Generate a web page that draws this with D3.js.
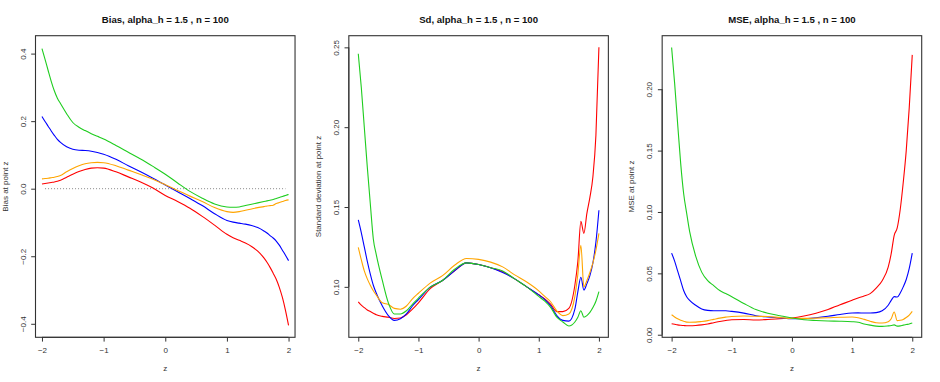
<!DOCTYPE html>
<html>
<head>
<meta charset="utf-8">
<script src="https://cdn.jsdelivr.net/npm/d3@7"></script>
<style>
  body { margin: 0; background: #fff; }
  svg text { font-family: "Liberation Sans", Arial, Helvetica, sans-serif; }
</style>
</head>
<body>
<svg id="chart"></svg>
<script>
const width = 940;
const height = 382;

// evaluation points z
const zGrid = [-2, -1.95, -1.9, -1.85, -1.8, -1.75, -1.7, -1.6, -1.5, -1.4, -1.3, -1.2, -1.1, -1,
  -0.8, -0.6, -0.4, -0.2, 0, 0.2, 0.4, 0.6, 0.8, 1, 1.1, 1.2, 1.3, 1.4, 1.5, 1.6, 1.65, 1.7,
  1.75, 1.8, 1.85, 1.9, 1.95, 2];

const seriesColors = ['#ff0000', '#0000ff', '#ffa500', '#1fcd1f'];
const xTicks = [-2, -1, 0, 1, 2];

// Bias
const biasRed = [0.014, 0.0155, 0.017, 0.0185, 0.020, 0.022, 0.025, 0.034, 0.043, 0.051, 0.057, 0.061, 0.062, 0.061,
  0.050, 0.035, 0.020, 0.002, -0.020, -0.038, -0.058, -0.082, -0.108, -0.135, -0.145, -0.153, -0.161, -0.171, -0.185, -0.205, -0.218, -0.233,
  -0.250, -0.268, -0.292, -0.322, -0.360, -0.405];
const biasBlue = [0.214, 0.199, 0.185, 0.171, 0.158, 0.146, 0.137, 0.124, 0.117, 0.114, 0.113, 0.111, 0.107, 0.102,
  0.087, 0.068, 0.050, 0.031, 0.011, -0.009, -0.029, -0.050, -0.074, -0.094, -0.099, -0.102, -0.105, -0.109, -0.115, -0.125, -0.131, -0.139,
  -0.146, -0.155, -0.167, -0.182, -0.197, -0.213];
const biasOrange = [0.029, 0.030, 0.031, 0.0325, 0.034, 0.036, 0.039, 0.050, 0.060, 0.068, 0.074, 0.077, 0.078, 0.077,
  0.068, 0.055, 0.042, 0.028, 0.012, -0.005, -0.022, -0.038, -0.056, -0.068, -0.070, -0.068, -0.064, -0.060, -0.056, -0.053, -0.051, -0.050,
  -0.049, -0.044, -0.041, -0.038, -0.035, -0.033];
const biasGreen = [0.415, 0.383, 0.350, 0.318, 0.290, 0.268, 0.252, 0.222, 0.196, 0.182, 0.172, 0.163, 0.155, 0.147,
  0.128, 0.108, 0.088, 0.066, 0.043, 0.017, -0.008, -0.028, -0.045, -0.054, -0.055, -0.054, -0.050, -0.046, -0.042, -0.038, -0.036, -0.034,
  -0.032, -0.029, -0.026, -0.023, -0.020, -0.017];

// Standard deviation
const sdRed = [0.0906, 0.0885, 0.087, 0.0855, 0.0845, 0.0835, 0.0825, 0.0815, 0.081, 0.0802, 0.0805, 0.0825, 0.086, 0.090,
  0.099, 0.104, 0.110, 0.115, 0.114, 0.112, 0.1095, 0.105, 0.100, 0.095, 0.0925, 0.089, 0.0845, 0.0845, 0.0865, 0.101, 0.116, 0.141,
  0.1335, 0.146, 0.156, 0.169, 0.195, 0.250];
const sdBlue = [0.142, 0.134, 0.125, 0.116, 0.108, 0.101, 0.096, 0.088, 0.082, 0.079, 0.080, 0.083, 0.088, 0.092,
  0.100, 0.104, 0.110, 0.115, 0.114, 0.112, 0.109, 0.105, 0.100, 0.095, 0.092, 0.088, 0.082, 0.079, 0.0785, 0.086, 0.097, 0.106,
  0.098, 0.102, 0.107, 0.115, 0.128, 0.148];
const sdOrange = [0.1247, 0.117, 0.110, 0.105, 0.101, 0.0975, 0.0948, 0.090, 0.089, 0.0865, 0.086, 0.088, 0.0925, 0.096,
  0.1025, 0.107, 0.1135, 0.1178, 0.1172, 0.1155, 0.1125, 0.1075, 0.103, 0.0975, 0.094, 0.0905, 0.085, 0.082, 0.083, 0.094, 0.108, 0.126,
  0.100, 0.104, 0.109, 0.115, 0.123, 0.1335];
const sdGreen = [0.246, 0.225, 0.200, 0.175, 0.152, 0.130, 0.120, 0.104, 0.090, 0.083, 0.083, 0.085, 0.089, 0.093,
  0.100, 0.104, 0.111, 0.115, 0.114, 0.112, 0.110, 0.105, 0.100, 0.094, 0.091, 0.087, 0.081, 0.078, 0.0755, 0.078, 0.081, 0.085,
  0.081, 0.082, 0.084, 0.087, 0.091, 0.097];

// MSE
const mseRed = [0.009, 0.0085, 0.008, 0.0077, 0.0075, 0.0073, 0.0073, 0.0075, 0.008, 0.0088, 0.0098, 0.0108, 0.0116, 0.0122,
  0.0124, 0.0120, 0.0124, 0.013, 0.0136, 0.0152, 0.0175, 0.0205, 0.0245, 0.028, 0.030, 0.0315, 0.0335, 0.038, 0.044, 0.055, 0.066, 0.081,
  0.087, 0.102, 0.124, 0.150, 0.185, 0.228];
const mseBlue = [0.0665, 0.060, 0.052, 0.044, 0.036, 0.031, 0.028, 0.024, 0.021, 0.0198, 0.0195, 0.0195, 0.0195, 0.019,
  0.0176, 0.0155, 0.0145, 0.0138, 0.013, 0.013, 0.0138, 0.015, 0.0165, 0.0177, 0.0178, 0.0177, 0.0177, 0.018, 0.0195, 0.024, 0.028, 0.031,
  0.0307, 0.034, 0.039, 0.045, 0.054, 0.0665];
const mseOrange = [0.0163, 0.0145, 0.013, 0.0118, 0.011, 0.0103, 0.0102, 0.0103, 0.0108, 0.0115, 0.0125, 0.0135, 0.0143, 0.0149,
  0.0152, 0.015, 0.0148, 0.014, 0.0133, 0.0133, 0.0135, 0.0138, 0.0142, 0.0144, 0.0138, 0.0125, 0.011, 0.0098, 0.0095, 0.0105, 0.013, 0.0185,
  0.0115, 0.0118, 0.0125, 0.014, 0.016, 0.019];
const mseGreen = [0.234, 0.205, 0.172, 0.140, 0.115, 0.099, 0.084, 0.064, 0.051, 0.044, 0.040, 0.036, 0.0335, 0.031,
  0.0255, 0.0205, 0.0175, 0.0155, 0.0136, 0.0122, 0.0116, 0.0112, 0.011, 0.0106, 0.0102, 0.0088, 0.0078, 0.007, 0.0068, 0.0072, 0.0075, 0.008,
  0.007, 0.0072, 0.0078, 0.0083, 0.0088, 0.0095];

const panels = [
  { title: 'Bias, alpha_h = 1.5 , n = 100', ylab: 'Bias at point z',
    xDomain: [-2.105, 2.105], yDomain: [-0.44, 0.453],
    yTicks: [-0.4, -0.2, 0, 0.2, 0.4], fmt: d3.format('.1f'),
    series: [biasRed, biasBlue, biasOrange, biasGreen], zeroLine: true },
  { title: 'Sd, alpha_h = 1.5 , n = 100', ylab: 'Standard deviation at point z',
    xDomain: [-2.157, 2.157], yDomain: [0.0684, 0.2573],
    yTicks: [0.10, 0.15, 0.20, 0.25], fmt: d3.format('.2f'),
    series: [sdRed, sdBlue, sdOrange, sdGreen] },
  { title: 'MSE, alpha_h = 1.5 , n = 100', ylab: 'MSE at point z',
    xDomain: [-2.157, 2.157], yDomain: [-0.0021, 0.2436],
    yTicks: [0, 0.05, 0.10, 0.15, 0.20], fmt: d3.format('.2f'),
    series: [mseRed, mseBlue, mseOrange, mseGreen] }
];

const svg = d3.select('#chart')
  .attr('width', width)
  .attr('height', height);

const panelW = width / 3;
const plotTop = 35.7, plotBottom = 337.3;
const tick = 4.3;
const axisCol = '#333';

panels.forEach(function(p, i) {
  const left = i * panelW + 35.5;
  const right = (i + 1) * panelW - 18.3;
  const x = d3.scaleLinear().domain(p.xDomain).range([left, right]);
  const y = d3.scaleLinear().domain(p.yDomain).range([plotBottom, plotTop]);
  const g = svg.append('g');

  // data lines
  const line = d3.line()
    .x(function(d) { return x(d[0]); })
    .y(function(d) { return y(d[1]); })
    .curve(d3.curveMonotoneX);

  if (p.zeroLine) {
    g.append('line')
      .attr('x1', x(-1.95)).attr('x2', x(1.95))
      .attr('y1', y(0)).attr('y2', y(0))
      .attr('stroke', '#888')
      .attr('stroke-width', 1)
      .attr('stroke-dasharray', '1,2');
  }

  p.series.forEach(function(vals, k) {
    g.append('path')
      .attr('d', line(zGrid.map(function(z, j) { return [z, vals[j]]; })))
      .attr('fill', 'none')
      .attr('stroke', seriesColors[k])
      .attr('stroke-width', 1.1);
  });

  // box
  g.append('rect')
    .attr('x', left).attr('y', plotTop)
    .attr('width', right - left).attr('height', plotBottom - plotTop)
    .attr('fill', 'none')
    .attr('stroke', axisCol)
    .attr('stroke-width', 1.1);

  // x axis
  const xa = g.append('g')
    .attr('transform', 'translate(0,' + plotBottom + ')')
    .call(d3.axisBottom(x).tickValues(xTicks).tickSize(tick).tickPadding(3)
      .tickFormat(d3.format('d')));
  xa.select('.domain').attr('d', 'M' + x(-2) + ',0H' + x(2)).attr('stroke', axisCol);
  xa.selectAll('.tick line').attr('stroke', axisCol);
  xa.selectAll('.tick text')
    .attr('y', 13).attr('dy', '0.35em')
    .attr('font-size', 8).attr('fill', '#333')
    .attr('font-family', '"Liberation Sans", Arial, sans-serif');

  // y axis
  const ya = g.append('g')
    .attr('transform', 'translate(' + left + ',0)')
    .call(d3.axisLeft(y).tickValues(p.yTicks).tickSize(tick).tickFormat(p.fmt));
  const yExt = d3.extent(p.yTicks);
  ya.select('.domain').attr('d', 'M0,' + y(yExt[0]) + 'V' + y(yExt[1])).attr('stroke', axisCol);
  ya.selectAll('.tick line').attr('stroke', axisCol);
  ya.selectAll('.tick text')
    .attr('x', null).attr('dy', null)
    .attr('text-anchor', 'middle')
    .attr('dominant-baseline', 'central')
    .attr('transform', 'translate(-12.5,0) rotate(-90)')
    .attr('font-size', 8).attr('fill', '#333')
    .attr('font-family', '"Liberation Sans", Arial, sans-serif');

  // titles
  g.append('text')
    .attr('x', (left + right) / 2).attr('y', 19)
    .attr('text-anchor', 'middle').attr('dominant-baseline', 'central')
    .attr('font-size', 9.6).attr('font-weight', 'bold').attr('fill', '#111')
    .text(p.title);

  g.append('text')
    .attr('x', (left + right) / 2).attr('y', plotBottom + 31)
    .attr('text-anchor', 'middle').attr('dominant-baseline', 'central')
    .attr('font-size', 8).attr('fill', '#333')
    .text('z');

  g.append('text')
    .attr('transform', 'translate(' + (left - 30.5) + ',' + ((plotTop + plotBottom) / 2) + ') rotate(-90)')
    .attr('text-anchor', 'middle').attr('dominant-baseline', 'central')
    .attr('font-size', 8).attr('fill', '#333')
    .text(p.ylab);
});
</script>
</body>
</html>
